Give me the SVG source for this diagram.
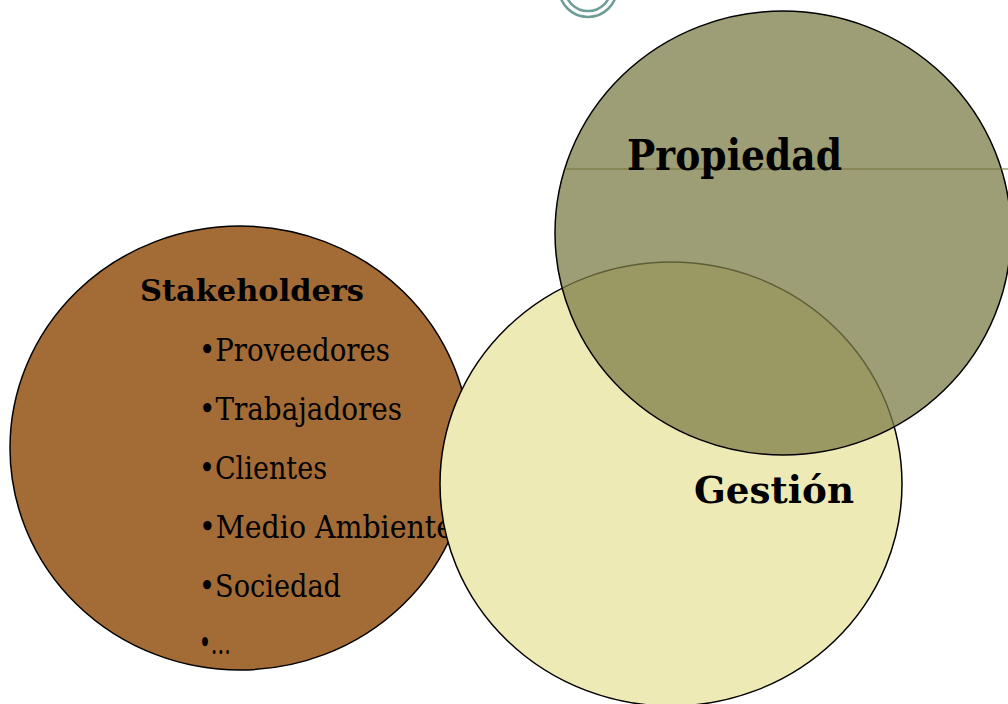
<svg xmlns="http://www.w3.org/2000/svg" width="1008" height="704" viewBox="0 0 1008 704">
<style>
.lbl{font-family:"DejaVu Serif","Liberation Serif",serif;fill:#000}
.b{font-weight:bold}
.item{font-size:31px}
</style>
<rect width="1008" height="704" fill="#fff"/>
<g id="deco">
<circle cx="588" cy="-12" r="29" fill="none" stroke="#6E9C96" stroke-width="2.5"/>
<circle cx="588" cy="-12" r="23" fill="none" stroke="#6E9C96" stroke-width="2.5"/>
</g>
<g id="stakeholders">
<ellipse cx="240" cy="448" rx="230" ry="222" fill="#A36B35" stroke="#000" stroke-width="1.5"/>
<text class="lbl b" x="140" y="301" font-size="30" textLength="224" lengthAdjust="spacingAndGlyphs">Stakeholders</text>
<text class="lbl item" x="199" y="361" textLength="191" lengthAdjust="spacingAndGlyphs">•Proveedores</text>
<text class="lbl item" x="199" y="420" textLength="203" lengthAdjust="spacingAndGlyphs">•Trabajadores</text>
<text class="lbl item" x="199" y="479" textLength="128" lengthAdjust="spacingAndGlyphs">•Clientes</text>
<text class="lbl item" x="199" y="538" textLength="254" lengthAdjust="spacingAndGlyphs">•Medio Ambiente</text>
<text class="lbl item" x="199" y="597" textLength="142" lengthAdjust="spacingAndGlyphs">•Sociedad</text>
<text class="lbl item" x="199" y="654" textLength="32" lengthAdjust="spacingAndGlyphs">•…</text>
</g>
<g id="gestion">
<ellipse cx="671" cy="484" rx="231" ry="222" fill="#EEEAB6" stroke="#000" stroke-width="1.5"/>
<text class="lbl b" x="694" y="503" font-size="38" textLength="160" lengthAdjust="spacingAndGlyphs">Gestión</text>
</g>
<g id="propiedad">
<ellipse cx="783" cy="233" rx="228" ry="222" fill="#7E7E48" fill-opacity="0.75" stroke="#000" stroke-width="1.5"/>
<line x1="565" y1="169" x2="1008" y2="169" stroke="#6E6E38" stroke-width="1"/>
<text class="lbl b" x="627" y="170" font-size="42" textLength="215" lengthAdjust="spacingAndGlyphs">Propiedad</text>
</g>
<g id="connectors"></g>
</svg>
